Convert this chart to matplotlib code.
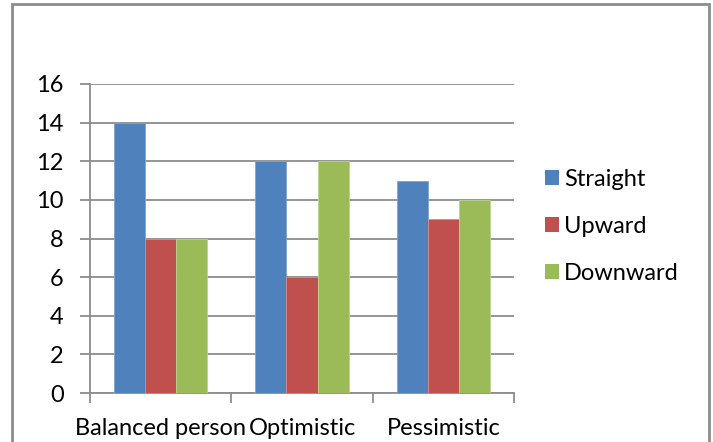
import matplotlib
matplotlib.use("Agg")
import matplotlib.pyplot as plt
import numpy as np
from matplotlib.patches import Rectangle

categories = ["Balanced person", "Optimistic", "Pessimistic"]
series_names = ["Straight", "Upward", "Downward"]
straight = [14, 12, 11]
upward = [8, 6, 9]
downward = [8, 12, 10]
y_ticks = [0, 2, 4, 6, 8, 10, 12, 14, 16]

colors = ["#4F81BD", "#C0504D", "#9BBB59"]
edge_colors = ["#7FA3D1", "#D98A88", "#BCD38E"]

plt.rcParams["font.family"] = ["Lato", "DejaVu Sans"]
FS = 17

W, H = 713, 442
fig = plt.figure(figsize=(W / 100, H / 100), dpi=100)

# outer chart frame
fig.patches.append(Rectangle((12 / W, -0.1), (709 - 12) / W, 1.1 - 4.5 / H,
                             transform=fig.transFigure, fill=False,
                             edgecolor="#8C8C8C", linewidth=2.0))

ax = fig.add_axes([90 / W, 1 - 393 / H, (514 - 90) / W, (393 - 84) / H])

x = np.arange(len(categories))
bw = 0.22
for i, (vals, name) in enumerate(zip([straight, upward, downward], series_names)):
    ax.bar(x + (i - 1) * bw, vals, width=bw, color=colors[i], label=name,
           edgecolor=edge_colors[i], linewidth=0.6, zorder=3)

ax.set_xlim(-0.5, len(categories) - 0.5)
ax.set_ylim(0, 16)
ax.set_yticks(y_ticks)
ax.yaxis.grid(True, color="#8C8C8C", linewidth=1.3, zorder=0)
ax.set_axisbelow(True)
for s in ["top", "right"]:
    ax.spines[s].set_visible(False)
ax.spines["left"].set_color("#8C8C8C")
ax.spines["left"].set_linewidth(1.3)
ax.spines["bottom"].set_color("#8C8C8C")
ax.spines["bottom"].set_linewidth(1.3)
ax.tick_params(axis="y", length=7, width=1.3, color="#8C8C8C",
               labelsize=FS, pad=12)
ax.set_xticks(x)
ax.set_xticklabels(categories, fontsize=FS)
ax.tick_params(axis="x", length=0, pad=18)
ax.set_xticks(np.arange(len(categories) + 1) - 0.5, minor=True)
ax.tick_params(axis="x", which="minor", length=7, width=1.3, color="#8C8C8C")

handles, labels = ax.get_legend_handles_labels()
leg = fig.legend(handles, labels, loc="upper left",
                 bbox_to_anchor=(524 / W, 1 - 148 / H), frameon=False,
                 fontsize=FS, handlelength=0.6, handleheight=0.6,
                 handletextpad=0.2, labelspacing=1.1)
for h in leg.legend_handles:
    h.set_edgecolor("none")

fig.savefig("out.png", dpi=100)
